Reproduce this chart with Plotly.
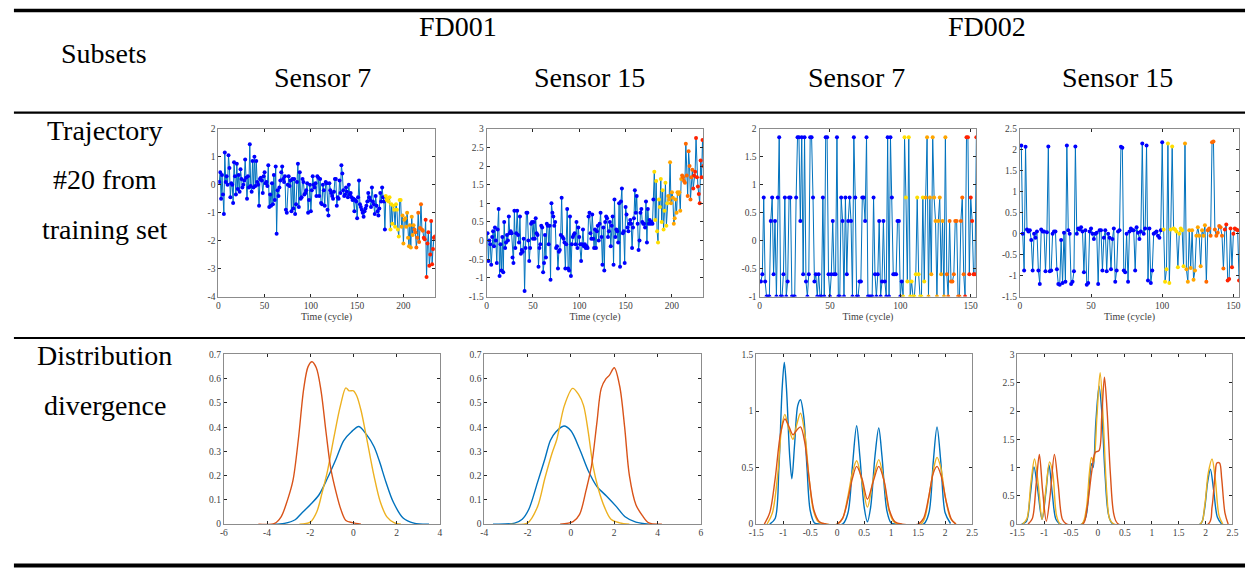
import plotly.graph_objects as go

W, H = 1253, 573

# ---------------- data ----------------
# FD001, trajectory #20, sensor 7 (normalised), cycles 1..234
fd001_s7 = [
    0.1, 0.45, -0.5, 0.35, -0.35, -1.05, 1.15, 0.1, 0.3, 0.0,
    1.05, 0.6, -0.45, 0.05, 0.0, -0.65, 0.8, 0.3, -0.35, 0.75,
    -0.15, 0.35, -0.25, 0.55, 0.2, -0.1, 0.0, 0.15, 0.9, 0.25,
    -0.5, 0.3, -0.1, 1.45, -0.05, -0.25, 0.85, -0.1, 1.0, -0.05,
    0.85, 0.1, 0.0, -0.75, 0.2, 0.25, 0.15, -0.3, 0.3, 0.45,
    0.05, 0.1, -0.05, 0.7, -0.8, -0.35, -0.75, 0.05, -0.7, 0.35,
    -0.55, 0.65, -1.75, -0.2, -0.4, -0.1, 0.15, 0.45, 0.65, 0.2,
    0.1, 0.3, -0.9, -1.0, 0.0, 0.3, -0.05, 0.15, -0.95, 0.2,
    -0.85, 0.2, -1.05, -0.7, 0.1, 0.75, -0.8, 0.45, -0.5, -0.45,
    0.2, 0.1, -0.35, -0.3, -0.2, 0.05, -1.0, -0.55, 0.0, -0.95,
    -0.2, 0.3, 0.0, -0.1, 0.05, -0.4, 0.3, 0.25, -0.4, 0.2,
    -0.65, -0.7, 0.0, -0.2, -0.75, 0.1, 0.05, -0.9, -1.1, 0.05,
    -0.2, -0.3, -0.4, -0.5, -0.25, 0.2, 0.2, -0.75, -0.45, -0.5,
    0.15, -0.3, 0.7, 0.4, -0.2, -0.4, -0.35, -0.1, -0.25, -0.45,
    0.0, -0.35, -0.3, -0.45, -0.55, -0.5, -0.95, -0.55, -0.6, -1.2,
    -0.45, 0.15, -0.7, -0.8, -0.9, -1.0, -1.15, -0.95, -0.85, -0.75,
    -0.6, -0.3, -0.45, -0.55, -0.8, -0.1, -0.6, -0.7, -1.05, -0.4,
    -0.75, -0.95, -1.1, -0.85, -0.3, -0.6, -0.1, -0.45, -0.6, -1.6,
    -0.4, -0.55, -0.5, -0.6, -0.45, -1.6, -0.7, -1.4, -0.75, -0.9,
    -1.5, -0.7, -0.9, -1.6, -1.85, -0.55, -0.55, -1.5, -1.1, -2.1,
    -1.25, -1.2, -1.5, -1.0, -1.9, -2.2, -1.45, -2.25, -1.15, -1.8,
    -1.45, -1.6, -1.7, -2.25, -1.9, -1.0, -2.05, -1.55, -0.7, -1.6,
    -1.65, -1.9, -1.95, -1.25, -3.3, -2.1, -1.7, -2.9, -2.5, -1.3,
    -2.85, -2.3, -1.9, -1.85,
]

# FD001, trajectory #20, sensor 15
fd001_s15 = [
    0.2, -0.55, 0.0, -0.1, -0.65, 0.1, 0.25, -0.15, 0.35, 0.0,
    -0.6, 0.3, 0.85, -0.95, -0.1, -0.8, 0.1, -0.85, 0.5, -0.2,
    -0.05, 0.15, 0.0, 0.65, 0.2, 0.25, 0.2, -0.45, -0.6, 0.8,
    -0.2, 0.2, 0.8, 0.15, -0.05, 0.65, -0.35, -0.25, -0.3, 0.05,
    -1.35, -0.2, 0.75, 0.75, 0.0, -0.55, -0.2, 0.45, 0.5, 0.05,
    0.5, 0.05, 0.6, 0.2, 0.15, -0.7, -0.2, -0.1, 0.4, 0.35,
    -0.85, -0.6, 0.15, -0.45, 0.45, 0.4, -0.1, 0.4, -1.05, 1.0,
    0.75, 0.65, 0.4, 0.5, -0.2, -0.15, -0.75, -0.3, -0.25, 0.15,
    1.15, 0.1, 0.05, -0.05, -0.75, -0.1, 0.85, -0.75, -0.8, 0.65,
    -0.95, -0.1, 0.1, 0.15, 0.2, -0.1, 0.5, -0.2, 0.35, 0.1,
    -0.1, -0.55, -0.1, 0.3, -0.15, -0.1, -0.2, -0.15, -0.2, 0.65,
    0.75, 0.2, 0.05, 0.7, 0.05, -0.2, 0.3, -0.2, 0.25, 0.4,
    0.0, 0.45, 0.75, 0.1, -0.65, 0.35, -0.8, 0.5, 0.65, 0.6,
    0.1, 0.25, 0.5, -0.15, 0.4, 0.65, -0.65, 1.1, 0.1, 0.3,
    0.25, -0.05, 1.0, -0.7, 1.05, 1.4, 0.2, 0.25, -0.6, 0.9,
    0.7, 0.35, 0.25, 0.45, 0.55, 0.45, -0.2, 0.35, 0.6, 1.35,
    0.75, 1.2, 0.45, -0.25, 0.0, 0.75, 0.85, 0.5, 0.45, 0.45,
    0.35, 1.05, -0.05, 0.85, 0.45, 0.55, 0.45, 0.5, 0.45, 1.1,
    1.85, 0.55, 1.6, 0.25, -0.05, 1.1, 0.9, 1.65, 0.5, 1.35,
    0.3, 0.8, 1.55, 0.4, 1.0, 1.2, 1.1, 2.1, 1.0, 1.3,
    1.15, 0.45, 0.6, 1.1, 0.75, 1.3, 1.25, 1.3, 0.8, 1.65,
    1.75, 1.7, 1.6, 1.55, 2.6, 1.75, 1.2, 2.4, 2.0, 1.1,
    1.7, 1.9, 1.4, 1.75, 1.85, 2.75, 1.7, 1.45, 1.25, 1.0,
    2.15, 1.7, 2.7, 2.0,
]

# FD002, trajectory #20, sensor 7
fd002_s7 = [
    -0.73, -0.6, 0.77, -0.73, -1, -1, -1, 0.35, 0.77, -0.6,
    0.35, -1, 0.77, 1.85, -1, -1, -0.6, 0.77, -1, -0.73,
    0.77, 0.77, -1, -1, -1, 0.77, 1.85, 1.85, 0.35, 1.85,
    -0.6, 1.85, -0.73, -1, -0.6, 1.85, 1.85, 0.77, -0.73, -0.6,
    -1, -0.6, -1, -1, 0.77, -1, 1.85, 1.85, -0.6, -1,
    -0.6, 0.35, -0.6, -0.6, 1.85, -1, -1, 0.77, 0.35, -1,
    0.77, -0.6, 0.35, 0.77, 0.35, -1, 1.85, 0.77, -1, -1,
    -0.73, -0.73, 0.77, 0.77, 0.35, 1.85, -1, -1, -1, -1,
    0.77, -0.6, -1, -0.6, 0.35, -1, -0.73, 0.35, -0.73, -1,
    1.85, -1, 1.85, 0.77, -0.6, -0.6, -0.6, 0.35, 0.35, -1,
    -0.73, -1, 1.85, 0.77, -0.73, 1.85, -1, -0.73, -1, -1,
    -0.6, 0.77, -0.6, -1, -1, 0.77, -0.73, 0.77, 1.85, -1,
    0.77, -0.6, 1.85, 0.77, 0.35, -1, 0.35, 0.77, -0.6, 0.35,
    -1, 1.85, -0.6, -1, 0.35, -0.73, -0.73, -0.6, 0.35, 0.35,
    -1, -1, 0.35, 0.77, -0.6, -1, 1.85, 1.85, -0.6, 0.77,
    0.35, -0.6, -0.6, 1.85,
]

# FD002, trajectory #20, sensor 15
fd002_s15 = [
    2.1, 0.0, -0.88, 2.07, 0.1, 0.05, 0.08, -0.15, -0.88, 0.0,
    -0.1, 0.05, -0.88, -1.2, 0.1, 0.05, 0.05, -0.9, 0.03, 2.08,
    -0.9, -0.88, 0.0, 0.05, 0.05, -0.85, -1.2, -1.22, -0.15, -1.18,
    0.02, -1.15, 2.1, 0.08, 0.0, -1.2, -1.15, -0.9, 2.08, 0.0,
    0.12, 0.1, 0.15, 0.05, -0.92, 0.08, -1.22, -1.18, 0.05, 0.12,
    0.0, -0.13, 0.0, 0.02, -1.2, 0.08, 0.08, -0.88, -0.1, 0.08,
    -0.9, 0.0, -0.1, -0.85, -0.13, 0.12, -1.15, -0.88, 0.05, 0.08,
    2.07, 2.05, -0.88, -0.92, 0.0, -1.15, 0.05, 0.12, 0.08, 0.08,
    -0.88, 0.15, 0.02, -0.13, 0.05, 2.15, 0.0, 0.12, 2.1, -1.12,
    0.12, -1.18, -0.88, 0.0, 0.02, 0.05, -0.05, -0.1, 0.08, 2.18,
    0.1, -1.15, -0.85, 2.15, -1.18, 0.1, 2.08, 0.12, 0.1, 0.05,
    -0.8, 0.0, 0.12, 0.08, -0.78, 2.15, -0.85, -1.15, 0.08, -0.82,
    0.08, -1.1, -0.88, -0.05, 0.15, -0.05, -0.78, 0.08, -0.05, 0.2,
    -1.15, 0.08, 0.12, -0.05, 2.18, 2.2, 0.1, -0.05, 0.02, 0.18,
    0.15, -0.05, -0.83, 0.1, 0.22, -1.12, -1.08, 0.12, -0.8, 0.0,
    0.12, 0.1, 0.08, -1.12,
]

# first cycle of each degradation stage (yellow, orange, dark orange, red)
fd001_s7_stages = [181, 198, 212, 222]
fd001_s15_stages = [181, 196, 211, 223]
fd002_s7_stages = [102, 118, 133, 146]
fd002_s15_stages = [101, 116, 131, 144]
stage_colors = ["#0000FF", "#FFDD00", "#FFA500", "#FF6A00", "#FF2200"]

# Distribution divergence curves (x, density)
d1_blue_x = [-3.7, -3.2, -2.7, -2.4, -2.0, -1.6, -1.2, -0.8, -0.45, -0.1, 0.25, 0.6, 0.95, 1.2, 1.5, 1.85, 2.3, 2.8, 3.5]
d1_blue_y = [0, 0.003, 0.018, 0.045, 0.08, 0.12, 0.19, 0.27, 0.345, 0.38, 0.403, 0.37, 0.32, 0.26, 0.175, 0.09, 0.025, 0.004, 0]
d1_yel_x = [-2.5, -2.0, -1.7, -1.45, -1.2, -0.9, -0.6, -0.35, -0.2, 0.0, 0.15, 0.35, 0.6, 0.95, 1.25, 1.55, 1.9, 2.2]
d1_yel_y = [0, 0.008, 0.05, 0.13, 0.22, 0.36, 0.49, 0.562, 0.55, 0.55, 0.53, 0.47, 0.36, 0.2, 0.09, 0.03, 0.005, 0]
d1_red_x = [-4.4, -3.65, -3.35, -3.05, -2.8, -2.55, -2.3, -2.1, -1.92, -1.72, -1.5, -1.27, -1.05, -0.8, -0.58, -0.35, -0.05, 0.35]
d1_red_y = [0, 0.003, 0.03, 0.1, 0.18, 0.35, 0.56, 0.65, 0.67, 0.645, 0.55, 0.38, 0.23, 0.13, 0.06, 0.015, 0.006, 0]

d2_blue_x = [-3.6, -2.6, -2.25, -1.95, -1.55, -1.2, -0.95, -0.7, -0.32, 0.0, 0.4, 0.8, 1.2, 1.65, 2.1, 2.5, 3.0, 3.6]
d2_blue_y = [0, 0.004, 0.02, 0.06, 0.17, 0.27, 0.345, 0.38, 0.405, 0.385, 0.31, 0.22, 0.155, 0.115, 0.072, 0.03, 0.008, 0]
d2_yel_x = [-2.8, -2.0, -1.55, -1.2, -0.88, -0.65, -0.3, 0.08, 0.35, 0.58, 0.8, 1.02, 1.25, 1.55, 1.85, 2.25, 2.7]
d2_yel_y = [0, 0.005, 0.07, 0.19, 0.29, 0.35, 0.49, 0.56, 0.535, 0.49, 0.38, 0.24, 0.15, 0.07, 0.02, 0.005, 0]
d2_red_x = [-0.5, 0.1, 0.4, 0.7, 0.95, 1.2, 1.4, 1.62, 1.78, 2.0, 2.25, 2.48, 2.7, 3.0, 3.3, 3.6, 4.2]
d2_red_y = [0, 0.01, 0.04, 0.14, 0.24, 0.42, 0.56, 0.6, 0.615, 0.645, 0.57, 0.4, 0.2, 0.08, 0.035, 0.005, 0]

d3_blue_x = [-1.25, -1.15, -1.08, -1.02, -0.98, -0.94, -0.88, -0.84, -0.79, -0.73, -0.68, -0.62, -0.56, -0.5, -0.42, -0.3,
             0.1, 0.2, 0.28, 0.36, 0.42, 0.5, 0.56, 0.62, 0.7, 0.77, 0.83, 0.92, 1.0, 1.1,
             1.6, 1.7, 1.78, 1.85, 1.92, 2.0, 2.1]
d3_blue_y = [0, 0.05, 0.5, 1.2, 1.43, 1.2, 0.6, 0.4, 0.7, 1.05, 1.1, 0.95, 0.5, 0.12, 0.01, 0,
             0, 0.1, 0.5, 0.87, 0.6, 0.15, 0.02, 0.15, 0.6, 0.85, 0.6, 0.12, 0.01, 0,
             0, 0.1, 0.55, 0.86, 0.55, 0.1, 0.005]
d3_yel_x = [-1.3, -1.2, -1.1, -1.03, -0.97, -0.9, -0.82, -0.75, -0.68, -0.6, -0.52, -0.44, -0.35, -0.2,
            0.0, 0.1, 0.2, 0.28, 0.36, 0.45, 0.56, 0.67, 0.77, 0.86, 0.96, 1.05, 1.15,
            1.55, 1.62, 1.72, 1.8, 1.85, 1.92, 2.0, 2.1, 2.2]
d3_yel_y = [0, 0.1, 0.45, 0.85, 0.97, 0.85, 0.75, 0.88, 0.98, 0.8, 0.4, 0.12, 0.02, 0,
            0, 0.05, 0.25, 0.45, 0.56, 0.4, 0.15, 0.4, 0.57, 0.4, 0.12, 0.02, 0,
            0, 0.05, 0.3, 0.52, 0.59, 0.5, 0.25, 0.05, 0]
d3_red_x = [-1.35, -1.25, -1.15, -1.05, -0.97, -0.9, -0.82, -0.75, -0.68, -0.6, -0.52, -0.43, -0.33, -0.2,
            0.0, 0.1, 0.2, 0.28, 0.36, 0.46, 0.56, 0.67, 0.77, 0.87, 0.97, 1.07, 1.2,
            1.5, 1.6, 1.7, 1.78, 1.85, 1.93, 2.02, 2.12, 2.2]
d3_red_y = [0, 0.1, 0.4, 0.8, 0.93, 0.87, 0.79, 0.83, 0.86, 0.72, 0.4, 0.12, 0.02, 0,
            0, 0.05, 0.22, 0.4, 0.51, 0.4, 0.22, 0.38, 0.51, 0.38, 0.12, 0.02, 0,
            0, 0.05, 0.25, 0.45, 0.51, 0.42, 0.2, 0.04, 0]

d4_blue_x = [-1.42, -1.33, -1.26, -1.19, -1.12, -1.04, -0.97, -0.91, -0.85, -0.78, -0.7,
             -0.3, -0.22, -0.16, -0.12, -0.09, -0.04, 0.02, 0.07, 0.13, 0.2, 0.28,
             1.9, 1.97, 2.04, 2.09, 2.15, 2.22, 2.3]
d4_blue_y = [0, 0.05, 0.5, 1.01, 0.6, 0.08, 0.55, 1.04, 0.55, 0.08, 0,
             0, 0.15, 0.75, 1.07, 1.0, 1.8, 2.44, 2.0, 0.9, 0.15, 0,
             0, 0.2, 0.75, 0.97, 0.6, 0.12, 0]
d4_yel_x = [-1.4, -1.32, -1.25, -1.18, -1.11, -1.04, -0.97, -0.9, -0.84, -0.77, -0.7,
            -0.3, -0.22, -0.16, -0.12, -0.08, -0.02, 0.04, 0.1, 0.16, 0.22, 0.3,
            1.9, 1.98, 2.05, 2.12, 2.18, 2.25, 2.32]
d4_yel_y = [0, 0.1, 0.7, 1.15, 0.7, 0.08, 0.6, 1.1, 0.9, 0.15, 0,
            0, 0.25, 0.9, 1.18, 1.1, 1.9, 2.68, 1.8, 0.6, 0.08, 0,
            0, 0.3, 0.9, 1.15, 0.8, 0.15, 0]
d4_red_x = [-1.3, -1.22, -1.15, -1.09, -1.03, -0.96, -0.89, -0.81, -0.74, -0.66, -0.58,
            -0.28, -0.2, -0.12, -0.05, 0.02, 0.07, 0.12, 0.17, 0.23, 0.3, 0.38,
            2.05, 2.12, 2.18, 2.21, 2.26, 2.3, 2.36, 2.42]
d4_red_y = [0, 0.1, 0.7, 1.23, 0.6, 0.05, 0.5, 1.23, 0.7, 0.08, 0,
            0, 0.3, 0.9, 1.27, 1.3, 1.9, 2.6, 2.0, 0.9, 0.15, 0,
            0, 0.3, 0.9, 1.08, 1.08, 0.8, 0.2, 0]

col_names = ["FD001", "FD002"]
sensor_names = ["Sensor 7", "Sensor 15", "Sensor 7", "Sensor 15"]
row_labels = [["Trajectory", "#20 from", "training set"], ["Distribution", "divergence"]]
x_title = "Time (cycle)"

LINE_BLUE = "#0072BD"
KDE_COLORS = ["#0072BD", "#EDB120", "#D95319"]
SERIF = "Liberation Serif, Times New Roman, DejaVu Serif, serif"

# ---------------- layout helpers ----------------
def xd(a, b):
    return [a / W, b / W]

def yd(top, bottom):
    return [1 - bottom / H, 1 - top / H]

def fmt(v):
    return str(int(v)) if float(v).is_integer() else ("%g" % v)

def frange(a, b, s):
    out, v = [], a
    while v <= b + 1e-9:
        out.append(round(v, 6))
        v += s
    return out

TICKFONT = dict(family=SERIF, size=9.5, color="#404040")

def axis(domain, rng, tickvals, anchor, title=None):
    d = dict(domain=domain, range=rng, tickvals=tickvals, ticktext=[fmt(v) for v in tickvals],
             ticks="inside", ticklen=3, tickwidth=1, tickcolor="#262626",
             showline=True, mirror="ticks", linecolor="#8c8c8c", linewidth=1,
             showgrid=False, zeroline=False, tickfont=TICKFONT, anchor=anchor,
             fixedrange=True)
    if title:
        d["title"] = dict(text=title, font=dict(family=SERIF, size=10, color="#404040"),
                          standoff=3)
    return d

def stage_color_list(n, starts):
    cols = []
    for t in range(1, n + 1):
        k = sum(1 for s in starts if t >= s)
        cols.append(stage_colors[k])
    return cols

fig = go.Figure()

trajs = [(fd001_s7, fd001_s7_stages), (fd001_s15, fd001_s15_stages),
         (fd002_s7, fd002_s7_stages), (fd002_s15, fd002_s15_stages)]
for i, (vals, st) in enumerate(trajs, start=1):
    n = len(vals)
    fig.add_trace(go.Scatter(
        x=list(range(1, n + 1)), y=vals, mode="lines+markers",
        line=dict(color=LINE_BLUE, width=1),
        marker=dict(size=4, color=stage_color_list(n, st), line=dict(width=0)),
        xaxis=f"x{i}", yaxis=f"y{i}", showlegend=False, hoverinfo="skip"))

dens = [
    [(d1_blue_x, d1_blue_y), (d1_yel_x, d1_yel_y), (d1_red_x, d1_red_y)],
    [(d2_blue_x, d2_blue_y), (d2_yel_x, d2_yel_y), (d2_red_x, d2_red_y)],
    [(d3_blue_x, d3_blue_y), (d3_yel_x, d3_yel_y), (d3_red_x, d3_red_y)],
    [(d4_blue_x, d4_blue_y), (d4_yel_x, d4_yel_y), (d4_red_x, d4_red_y)],
]
for j, group in enumerate(dens, start=5):
    for (xs, ys), c in zip(group, KDE_COLORS):
        fig.add_trace(go.Scatter(
            x=xs, y=ys, mode="lines", line=dict(color=c, width=1.4, shape="spline", smoothing=0.9),
            xaxis=f"x{j}", yaxis=f"y{j}", showlegend=False, hoverinfo="skip"))

top_y = yd(126, 296.7)
bot_y = yd(355.7, 528.3)
lay = {}
lay["xaxis"] = axis(xd(212.7, 431.7), [0, 234], [0, 50, 100, 150, 200], "y", x_title)
lay["yaxis"] = axis(top_y, [-4, 2], frange(-4, 2, 1), "x")
lay["xaxis2"] = axis(xd(484, 703.3), [0, 234], [0, 50, 100, 150, 200], "y2", x_title)
lay["yaxis2"] = axis(top_y, [-1.5, 3], frange(-1.5, 3, 0.5), "x2")
lay["xaxis3"] = axis(xd(760, 979.3), [0, 154], [0, 50, 100, 150], "y3", x_title)
lay["yaxis3"] = axis(top_y, [-1, 2], frange(-1, 2, 0.5), "x3")
lay["xaxis4"] = axis(xd(1023.3, 1245), [0, 154], [0, 50, 100, 150], "y4", x_title)
lay["yaxis4"] = axis(top_y, [-1.5, 2.5], frange(-1.5, 2.5, 0.5), "x4")
lay["xaxis5"] = axis(xd(218.3, 436.7), [-6, 4], frange(-6, 4, 2), "y5")
lay["yaxis5"] = axis(bot_y, [0, 0.7], frange(0, 0.7, 0.1), "x5")
lay["xaxis6"] = axis(xd(481.7, 700.7), [-4, 6], frange(-4, 6, 2), "y6")
lay["yaxis6"] = axis(bot_y, [0, 0.7], frange(0, 0.7, 0.1), "x6")
lay["xaxis7"] = axis(xd(756.7, 975), [-1.5, 2.5], frange(-1.5, 2.5, 0.5), "y7")
lay["yaxis7"] = axis(bot_y, [0, 1.5], frange(0, 1.5, 0.5), "x7")
lay["xaxis8"] = axis(xd(1020.7, 1238.3), [-1.5, 2.5], frange(-1.5, 2.5, 0.5), "y8")
lay["yaxis8"] = axis(bot_y, [0, 3], frange(0, 3, 0.5), "x8")

# table rules
shapes = []
for y, w in [(5.5, 3.5), (109.5, 2.2), (338.8, 2.0), (570.5, 4.0)]:
    shapes.append(dict(type="line", xref="paper", yref="paper", x0=6 / W, x1=1251 / W,
                       y0=1 - y / H, y1=1 - y / H, line=dict(color="black", width=w)))

TXT = dict(family=SERIF, size=28, color="black")
annotations = []
def add_text(txt, px, py):
    annotations.append(dict(text=txt, x=px / W, y=1 - py / H, xref="paper", yref="paper",
                            showarrow=False, xanchor="center", yanchor="middle", font=TXT))

add_text("Subsets", 97, 49)
add_text(col_names[0], 455, 22)
add_text(col_names[1], 990, 22)
for txt, px in zip(sensor_names, [318, 588, 858, 1122]):
    add_text(txt, px, 74)
for k, txt in enumerate(row_labels[0]):
    add_text(txt, 98, 128 + 50 * k)
for k, txt in enumerate(row_labels[1]):
    add_text(txt, 98, 357 + 51 * k)

fig.update_layout(width=W, height=H, margin=dict(l=0, r=0, t=0, b=0),
                  paper_bgcolor="white", plot_bgcolor="white",
                  shapes=shapes, annotations=annotations, showlegend=False, **lay)

fig.write_html("out.html")
